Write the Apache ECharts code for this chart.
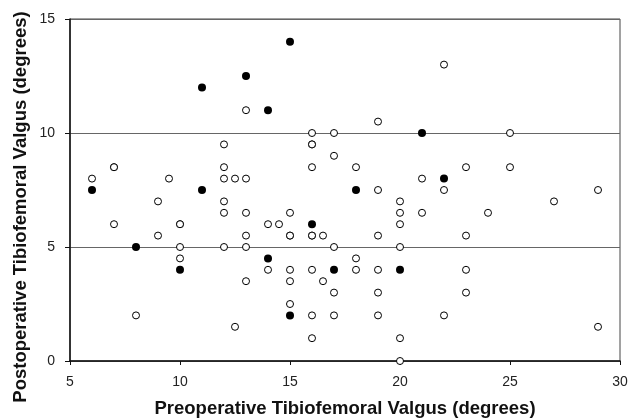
<!DOCTYPE html>
<html>
<head>
<meta charset="utf-8">
<script src="https://cdn.jsdelivr.net/npm/echarts@6/dist/echarts.min.js"></script>
<style>
  html, body { margin: 0; padding: 0; background: #fff; }
  #chart { width: 630px; height: 419px; }
</style>
</head>
<body>
<div id="chart"></div>
<script>
// open circles (duplicates give the heavier outlines)
var openPoints = [
    [6, 8], [7, 8.5], [7, 8.5], [7, 6], [8, 2], [9, 7], [9, 5.5], [9.5, 8],
    [10, 6], [10, 6], [10, 5], [10, 4.5],
    [12, 9.5], [12, 8.5], [12, 8], [12, 7], [12, 6.5], [12, 5], [12.5, 8], [12.5, 1.5],
    [13, 11], [13, 8], [13, 6.5], [13, 5.5], [13, 5], [13, 3.5],
    [14, 6], [14, 4], [14.5, 6],
    [15, 6.5], [15, 5.5], [15, 5.5], [15, 4], [15, 3.5], [15, 2.5],
    [16, 10], [16, 9.5], [16, 9.5], [16, 8.5], [16, 5.5], [16, 5.5], [16, 4], [16, 2], [16, 1],
    [16.5, 5.5], [16.5, 3.5],
    [17, 10], [17, 9], [17, 5], [17, 3], [17, 2],
    [18, 8.5], [18, 4.5], [18, 4],
    [19, 10.5], [19, 7.5], [19, 5.5], [19, 4], [19, 3], [19, 2],
    [20, 7], [20, 6.5], [20, 6], [20, 5], [20, 1], [20, 0],
    [21, 8], [21, 6.5],
    [22, 13], [22, 7.5], [22, 2],
    [23, 8.5], [23, 5.5], [23, 4], [23, 3],
    [24, 6.5], [25, 10], [25, 8.5], [27, 7], [29, 7.5], [29, 1.5]
];
// filled circles
var filledPoints = [
    [6, 7.5], [8, 5], [10, 4], [11, 12], [11, 7.5], [13, 12.5], [14, 11], [14, 4.5],
    [15, 14], [15, 2], [16, 6], [17, 4], [18, 7.5], [20, 4], [21, 10], [22, 8]
];
var xTicks = [5, 30, 5];   // min, max, step
var yTicks = [0, 15, 5];
var xTitle = 'Preoperative Tibiofemoral Valgus (degrees)';
var yTitle = 'Postoperative Tibiofemoral Valgus (degrees)';

var myChart = echarts.init(document.getElementById('chart'));
var option = {
    animation: false,
    grid: {
        left: 70,
        right: 10,
        top: 19,
        bottom: 58,
        outerBoundsMode: 'none',
        show: true,
        borderColor: '#444',
        borderWidth: 1
    },
    // y title sits a bit below the plot centre in the original
    graphic: [{
        type: 'text',
        x: 21,
        y: 207,
        rotation: Math.PI / 2,
        style: {
            text: yTitle,
            fontFamily: 'Liberation Sans',
            fontWeight: 'bold',
            fontSize: 18.5,
            fill: '#111',
            align: 'center',
            verticalAlign: 'middle'
        }
    }],
    xAxis: {
        type: 'value',
        min: xTicks[0],
        max: xTicks[1],
        interval: xTicks[2],
        name: xTitle,
        nameLocation: 'middle',
        nameGap: 38,
        nameTextStyle: {
            fontFamily: 'Liberation Sans',
            fontWeight: 'bold',
            fontSize: 18.5,
            color: '#111'
        },
        axisLine: { lineStyle: { color: '#111', width: 1.5 } },
        axisTick: { length: 4, lineStyle: { color: '#111' } },
        axisLabel: {
            margin: 14,
            fontFamily: 'Liberation Sans',
            fontSize: 14,
            color: '#222'
        },
        splitLine: { show: false }
    },
    yAxis: {
        type: 'value',
        min: yTicks[0],
        max: yTicks[1],
        interval: yTicks[2],
        axisLine: { show: true, lineStyle: { color: '#111', width: 1.5 } },
        axisTick: { show: true, length: 5, lineStyle: { color: '#111' } },
        axisLabel: {
            margin: 15,
            fontFamily: 'Liberation Sans',
            fontSize: 14,
            color: '#222'
        },
        splitLine: { show: true, lineStyle: { color: '#666', width: 1 } }
    },
    series: [
        {
            name: 'open',
            type: 'scatter',
            symbol: 'circle',
            symbolSize: 7,
            itemStyle: { color: '#fff', borderColor: '#000', borderWidth: 1, opacity: 1 },
            data: openPoints
        },
        {
            name: 'filled',
            type: 'scatter',
            symbol: 'circle',
            symbolSize: 8,
            itemStyle: { color: '#000', opacity: 1 },
            data: filledPoints
        }
    ]
};
myChart.setOption(option);
</script>
</body>
</html>
